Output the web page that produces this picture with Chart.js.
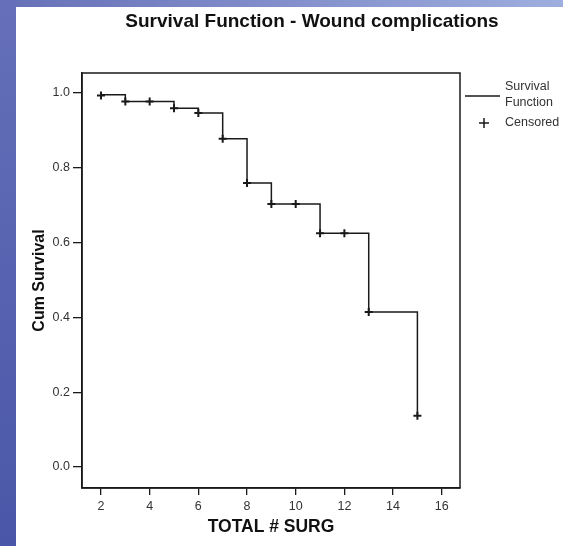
<!DOCTYPE html>
<html>
<head>
<meta charset="utf-8">
<script src="https://cdn.jsdelivr.net/npm/chart.js@4.4.1/dist/chart.umd.min.js"></script>
<style>
  html, body { margin: 0; padding: 0; }
  body {
    width: 563px; height: 546px; overflow: hidden; position: relative;
    background: linear-gradient(to right, #6670b8, #9eaede);
  }
  #leftBar {
    position: absolute; left: 0; top: 0; width: 16px; height: 546px;
    background: linear-gradient(to bottom, #6570b9, #4a57a8);
  }
  #wrap {
    position: absolute; left: 16px; top: 7px; width: 547px; height: 539px;
    background: #ffffff;
  }
</style>
</head>
<body>
<div id="leftBar"></div>
<div id="wrap"><canvas id="kmChart" width="547" height="539"></canvas></div>
<script>
// Kaplan-Meier steps (time of drop, survival after drop)
const eventTimes = [2, 3, 5, 6, 7, 8, 9, 11, 13, 15];
const survival = [0.995, 0.977, 0.959, 0.946, 0.877, 0.759, 0.703, 0.625, 0.414, 0.137];

// Censored marks
const censorTimes = [2, 3, 4, 5, 6, 7, 8, 9, 10, 11, 12, 13, 15];
const censorSurvival = [0.993, 0.977, 0.977, 0.959, 0.946, 0.877, 0.759, 0.703, 0.703, 0.625, 0.625, 0.414, 0.137];

// Tick labels
const xTicks = [2, 4, 6, 8, 10, 12, 14, 16];
const yTicks = [0.0, 0.2, 0.4, 0.6, 0.8, 1.0];

const chartTitle = 'Survival Function - Wound complications';
const xTitle = 'TOTAL # SURG';
const yTitle = 'Cum Survival';
const legendLine = ['Survival', 'Function'];
const legendCensor = 'Censored';

const FONT = "'Liberation Sans', Arial, sans-serif";
const INK = '#1a1a1a';

// title, frame and legend drawn by hand
const extrasPlugin = {
    id: 'extras',
    afterDraw(chart) {
        const ctx = chart.ctx;
        const a = chart.chartArea;
        ctx.save();

        // box around plot
        ctx.strokeStyle = INK;
        ctx.lineWidth = 1.5;
        ctx.strokeRect(a.left, a.top, a.right - a.left, a.bottom - a.top);

        // title
        ctx.fillStyle = '#111';
        ctx.font = 'bold 19px ' + FONT;
        ctx.textAlign = 'center';
        ctx.textBaseline = 'middle';
        ctx.fillText(chartTitle, 296, 14.5);

        // legend
        ctx.font = '12.5px ' + FONT;
        ctx.fillStyle = '#333';
        ctx.textAlign = 'left';
        ctx.lineWidth = 1.3;
        ctx.beginPath();
        ctx.moveTo(449, 89);
        ctx.lineTo(484, 89);
        ctx.stroke();
        ctx.fillText(legendLine[0], 489, 80);
        ctx.fillText(legendLine[1], 489, 96);

        ctx.lineWidth = 1.5;
        ctx.beginPath();
        ctx.moveTo(463, 116);
        ctx.lineTo(473, 116);
        ctx.moveTo(468, 111);
        ctx.lineTo(468, 121);
        ctx.stroke();
        ctx.fillText(legendCensor, 489, 116);

        ctx.restore();
    }
};

const ctx = document.getElementById('kmChart').getContext('2d');
const kmChart = new Chart(ctx, {
    type: 'scatter',
    data: {
        datasets: [
            {
                label: 'Survival Function',
                data: eventTimes.map((t, i) => ({ x: t, y: survival[i] })),
                showLine: true,
                stepped: 'before',
                borderColor: INK,
                borderWidth: 1.5,
                pointRadius: 0,
                fill: false,
            },
            {
                label: 'Censored',
                data: censorTimes.map((t, i) => ({ x: t, y: censorSurvival[i] })),
                showLine: false,
                pointStyle: 'cross',
                pointRadius: 4,
                borderColor: INK,
                borderWidth: 2,
            },
        ],
    },
    options: {
        responsive: false,
        animation: false,
        layout: { padding: { top: 66, right: 103, left: 0, bottom: 0 } },
        plugins: {
            legend: { display: false },
            title: { display: false },
            tooltip: { enabled: false },
        },
        scales: {
            x: {
                type: 'linear',
                min: 1.22,
                max: 16.75,
                afterBuildTicks: (scale) => { scale.ticks = xTicks.map(v => ({ value: v })); },
                afterFit: (scale) => { scale.height = 58; },
                grid: { drawOnChartArea: false, drawTicks: true, tickLength: 7, color: INK, lineWidth: 1.3 },
                border: { display: true, color: INK, width: 1.5 },
                ticks: { color: '#333', font: { family: FONT, size: 12.5 }, padding: 4, maxRotation: 0 },
                title: { display: true, text: xTitle, color: '#111', font: { family: FONT, size: 17.5, weight: 'bold' }, padding: { top: 0, bottom: 8 } },
            },
            y: {
                type: 'linear',
                min: -0.056,
                max: 1.053,
                afterBuildTicks: (scale) => { scale.ticks = yTicks.map(v => ({ value: v })); },
                afterFit: (scale) => { scale.width = 66; },
                grid: { drawOnChartArea: false, drawTicks: true, tickLength: 9, color: INK, lineWidth: 1.3 },
                border: { display: true, color: INK, width: 1.5 },
                ticks: { color: '#333', font: { family: FONT, size: 12.5 }, padding: 3, callback: (v) => v.toFixed(1) },
                title: { display: true, text: yTitle, color: '#111', font: { family: FONT, size: 16, weight: 'bold' }, padding: { top: 14, bottom: 0 } },
            },
        },
    },
    plugins: [extrasPlugin],
});
</script>
</body>
</html>
